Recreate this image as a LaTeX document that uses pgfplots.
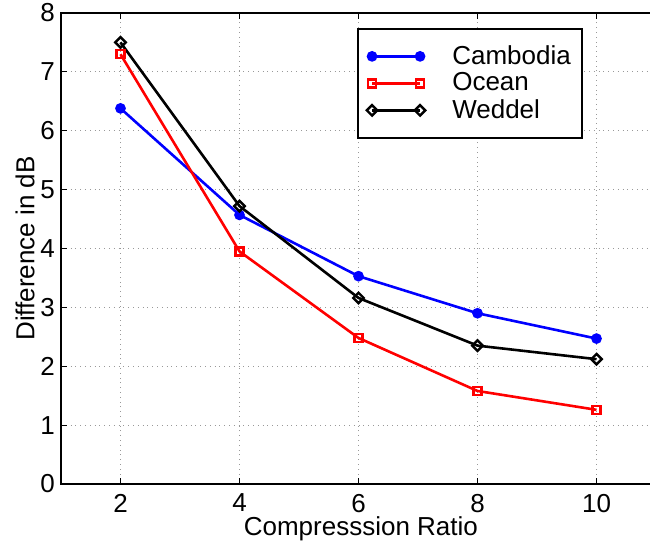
\documentclass[border=0pt]{standalone}
\usepackage{fontspec}
\setmainfont{Liberation Sans}
\usepackage{pgfplots}
\pgfplotsset{compat=1.18}
\begin{document}
\begin{tikzpicture}
\begin{axis}[
  scale only axis,
  width=297.5pt, height=235.5pt,
  xmin=1, xmax=11, ymin=0, ymax=8,
  xtick={2,4,6,8,10}, ytick={0,1,...,8},
  tick align=inside, major tick length=3pt,
  tick style={black, line width=0.5pt},
  grid=major,
  grid style={dotted, gray!80, line width=0.5pt},
  axis line style={line width=1pt},
  font=\fontsize{13}{15}\selectfont,
  tick label style={font=\fontsize{13}{15}\selectfont},
  xticklabel style={yshift=-1.5pt},
  yticklabel style={xshift=0.5pt},
  /pgf/number format/assume math mode=true,
  xlabel={Compresssion Ratio},
  ylabel={Difference in dB},
  xlabel style={at={(axis description cs:0.504,0)}, anchor=north, yshift=-13pt},
  ylabel style={at={(axis description cs:-0.0325,0.5)}, anchor=south},
  legend cell align=left,
  legend style={at={(0.4975,0.968)}, anchor=north west, draw=black,
    line width=0.8pt, fill=white, inner xsep=4.5pt, inner ysep=7pt,
    font=\fontsize{13}{15}\selectfont,
    row sep=0pt,
    nodes={inner xsep=0pt, inner ysep=0pt, minimum height=13.5pt},
    /tikz/column 1/.style={column sep=13.5pt},
    /tikz/column 2/.style={nodes={text width=60.5pt}}},
  legend image code/.code={\draw[#1] plot coordinates {(0pt,0pt) (24pt,0pt)};},
  every axis plot/.append style={line width=1.3pt},
]
\addplot[blue, mark=*, mark size=2pt, mark options={solid, fill=blue}]
  coordinates {(2,6.38) (4,4.57) (6,3.53) (8,2.90) (10,2.47)};
\addlegendentry{Cambodia}
\addplot[red, mark=square, mark size=2pt, mark options={solid, line width=1.2pt}]
  coordinates {(2,7.30) (4,3.95) (6,2.48) (8,1.58) (10,1.26)};
\addlegendentry{Ocean}
\addplot[black, mark=square, mark size=1.85pt, mark options={solid, rotate=45, line width=1.2pt}]
  coordinates {(2,7.50) (4,4.72) (6,3.16) (8,2.35) (10,2.12)};
\addlegendentry{Weddel}
\end{axis}
\pgfresetboundingbox
\path[use as bounding box]
  ([xshift=-30.5pt, yshift=-29.5pt]current axis.south west)
  rectangle ([xshift=-3pt, yshift=6.5pt]current axis.north east);
\end{tikzpicture}
\end{document}
